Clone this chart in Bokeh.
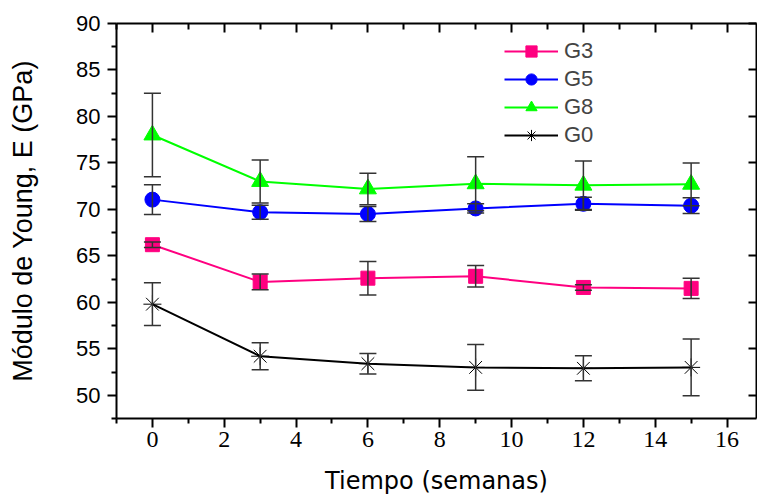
from bokeh.plotting import figure
from bokeh.models import (ColumnDataSource, Whisker, TeeHead, Range1d, LinearAxis,
                          FixedTicker, Legend, CustomJSTickFormatter)
from bokeh.embed import file_html
from bokeh.resources import INLINE

# ---- data ----
weeks = [0, 3, 6, 9, 12, 15]
g3 = [66.2, 62.2, 62.6, 62.8, 61.6, 61.5]
g3_err = [0.3, 0.85, 1.8, 1.15, 0.3, 1.1]
g5 = [71.05, 69.7, 69.5, 70.1, 70.6, 70.4]
g5_err = [1.6, 0.75, 0.8, 0.5, 0.7, 0.85]
g8 = [78.0, 73.0, 72.2, 72.75, 72.6, 72.7]
g8_err = [4.5, 2.3, 1.7, 2.9, 2.6, 2.3]
g0 = [59.8, 54.2, 53.4, 53.0, 52.9, 53.0]
g0_err = [2.3, 1.45, 1.1, 2.45, 1.35, 3.05]

series_names = ["G3", "G5", "G8", "G0"]
x_major = [0, 2, 4, 6, 8, 10, 12, 14, 16]
x_minor = [-1, 1, 3, 5, 7, 9, 11, 13, 15]
y_major = [50, 55, 60, 65, 70, 75, 80, 85, 90]
y_minor = [47.5, 52.5, 57.5, 62.5, 67.5, 72.5, 77.5, 82.5, 87.5]

p = figure(width=757, height=497, output_backend="svg", toolbar_location=None,
           x_range=Range1d(-1, 16.82), y_range=Range1d(47.5, 90),
           min_border_left=116, min_border_right=1, min_border_top=23,
           min_border_bottom=78)
p.grid.visible = False
p.outline_line_color = None
p.background_fill_color = "white"
p.border_fill_color = "white"

xa = p.xaxis[0]
xa.ticker = FixedTicker(ticks=x_major, minor_ticks=x_minor)
xa.axis_label = "Tiempo (semanas)"
xa.axis_label_text_font = "DejaVu Sans"
xa.axis_label_text_font_size = "24px"
xa.axis_label_text_font_style = "normal"
xa.axis_label_standoff = 17
xa.major_label_text_font = "Liberation Sans Narrow"
xa.major_label_text_font_size = "24px"
xa.major_label_standoff = 4

ya = p.yaxis[0]
ya.ticker = FixedTicker(ticks=y_major, minor_ticks=y_minor)
ya.axis_label = "Módulo de Young, E (GPa)"
ya.axis_label_text_font = "Liberation Sans"
ya.axis_label_text_font_size = "27px"
ya.axis_label_text_font_style = "normal"
ya.axis_label_standoff = 35
ya.major_label_text_font = "Liberation Sans"
ya.major_label_text_font_size = "22px"
ya.major_label_standoff = 7

for ax in (xa, ya):
    ax.axis_line_width = 2
    ax.major_tick_line_width = 2
    ax.minor_tick_line_width = 2
    ax.major_tick_out = 9
    ax.major_tick_in = 0
    ax.minor_tick_out = 5
    ax.minor_tick_in = 0
    ax.axis_label_text_color = "black"
    ax.major_label_text_color = "black"

blank = CustomJSTickFormatter(code="return ''")
top = LinearAxis(ticker=FixedTicker(ticks=x_major, minor_ticks=x_minor),
                 formatter=blank, major_label_standoff=0,
                 axis_line_width=2, major_tick_line_width=2, minor_tick_line_width=2,
                 major_tick_in=9, major_tick_out=0, minor_tick_in=6, minor_tick_out=0)
right = LinearAxis(ticker=FixedTicker(ticks=y_major, minor_ticks=[]),
                   formatter=CustomJSTickFormatter(code="return ''"),
                   major_label_standoff=0,
                   axis_line_width=2, major_tick_line_width=2,
                   major_tick_in=8, major_tick_out=0, minor_tick_in=0, minor_tick_out=0)
p.add_layout(top, "above")
p.add_layout(right, "right")

styles = [
    (g3, g3_err, "#FF0080", "square", 14),
    (g5, g5_err, "#0000FF", "circle", 15),
    (g8, g8_err, "#00FF00", "triangle", 17),
    (g0, g0_err, "black", "asterisk", 18),
]

items = []
for name, (vals, errs, color, marker, size) in zip(series_names, styles):
    src = ColumnDataSource(dict(
        x=weeks, y=vals,
        upper=[v + e for v, e in zip(vals, errs)],
        lower=[v - e for v, e in zip(vals, errs)],
    ))
    ln = p.line("x", "y", source=src, line_color=color, line_width=2)
    if marker == "asterisk":
        mk = p.scatter("x", "y", source=src, marker=marker, size=size,
                       line_color=color, line_width=1, fill_color=None)
    else:
        mk = p.scatter("x", "y", source=src, marker=marker, size=size,
                       line_color=color, fill_color=color)
    w = Whisker(base="x", upper="upper", lower="lower", source=src,
                dimension="height", line_color="#333333", line_width=1.5,
                upper_head=TeeHead(size=17, line_color="#333333", line_width=1.5),
                lower_head=TeeHead(size=17, line_color="#333333", line_width=1.5),
                level="overlay")
    p.add_layout(w)
    items.append((name, [ln, mk]))

legend = Legend(items=items, location=(388, 269), orientation="vertical",
                glyph_width=54, glyph_height=28, label_height=28, spacing=0,
                padding=0, margin=0, label_standoff=6,
                label_text_font="Liberation Sans", label_text_font_size="22px",
                border_line_color=None, background_fill_alpha=0)
p.add_layout(legend, "center")

open("out.html", "w").write(file_html(p, INLINE))
